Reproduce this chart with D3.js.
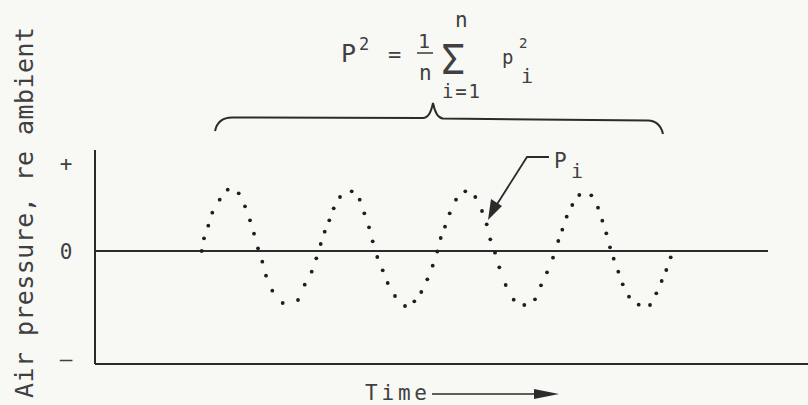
<!DOCTYPE html>
<meta charset="utf-8">
<style>
  body { margin: 0; background: #f8f8f5; }
  text { font-family: "DejaVu Sans Mono", monospace; fill: #404040; }
</style>
<body>
<div id="chart"></div>
<script src="https://d3js.org/d3.v7.min.js"></script>
<script>

var times = [106.7, 109, 113.3, 117.3, 124.7, 132.7, 143.7, 150, 155, 159, 163, 167.3, 171, 177.3, 187.7,
  203, 209.7, 216.7, 221.3, 225.7, 229.7, 234.3, 238.7, 245, 256.7, 264.7, 269.3, 274, 277.7, 282.3,
  287.7, 292.7, 300, 310, 319.3, 326.3, 332.3, 337.7, 342.3, 345.7, 350, 354.7, 361, 370.3, 380.3,
  387, 391.7, 395.3, 400, 404.3, 410.7, 418.7, 429.3, 440, 446, 452, 458, 463.3, 467.3, 471.7,
  477.3, 484.3, 496.3, 503, 507.3, 511.3, 515, 518.7, 523.3, 527.7, 534, 543.7, 555, 561.3, 566.7,
  571.3, 575.7];
var pressures = [0, 12.7, 25.3, 38.3, 51.3, 61.3, 57.7, 44.7, 30.7, 17.3, 2.7, -10.7, -24.7, -39.7, -52,
  -49, -33.7, -20.7, -7.3, 7, 19.3, 30.7, 42.7, 54, 59.7, 51.3, 37.7, 23.7, 9.7, -6,
  -19.3, -32, -45, -55, -50.3, -41, -28.3, -14.7, -0.5, 13, 24.3, 37.7, 51.3, 59.7, 54,
  40, 26.7, 11.7, -1.7, -16.3, -34, -48.7, -54, -48.3, -34.3, -21.3, -6.7, 10, 21.3, 34.3,
  46, 56, 55.7, 43.3, 30.3, 17.7, 3.7, -7.7, -20.7, -33.3, -45.7, -53.7, -54, -42.3, -30,
  -19, -6.3];

var tickValues = [88, 0, -107];
var tickLabels = ["+", "0", "\u2013"];
var zeroLineEnd = 673;

var w = 808, h = 405;

var svg = d3.select("#chart")
    .append("svg")
    .attr("width", w)
    .attr("height", h);

svg.append("rect")
    .attr("width", w)
    .attr("height", h)
    .attr("fill", "#f8f8f5");

var x = d3.scaleLinear().domain([0, 713]).range([95, 808]);
var y = d3.scaleLinear().domain([-113, 101]).range([364, 150]);

var ink = "#2b2b2b";

// axes
svg.append("line")
    .attr("x1", x(0)).attr("x2", x(0))
    .attr("y1", y(101)).attr("y2", y(-113))
    .attr("stroke", ink).attr("stroke-width", 2);

svg.append("line")
    .attr("x1", x(0)).attr("x2", x(713))
    .attr("y1", y(-113)).attr("y2", y(-113))
    .attr("stroke", ink).attr("stroke-width", 2);

// ambient (zero) line
svg.append("line")
    .attr("x1", x(0)).attr("x2", x(zeroLineEnd))
    .attr("y1", y(0)).attr("y2", y(0))
    .attr("stroke", ink).attr("stroke-width", 1.8);

// tick labels
svg.selectAll(".tick")
    .data(tickValues)
    .enter()
    .append("text")
    .attr("class", "tick")
    .text(function(d, i) { return tickLabels[i]; })
    .attr("x", 66)
    .attr("y", function(d) { return y(d); })
    .attr("dy", "0.36em")
    .attr("text-anchor", "middle")
    .attr("font-size", 21);

// dots
var dots = times.map(function(t, i) { return {t: t, p: pressures[i]}; });

svg.selectAll(".dot")
    .data(dots)
    .enter()
    .append("circle")
    .attr("class", "dot")
    .attr("cx", function(d) { return x(d.t); })
    .attr("cy", function(d) { return y(d.p); })
    .attr("r", 1.9)
    .attr("fill", "#1e1e1e");

// y label
svg.append("text")
    .text("Air pressure, re ambient")
    .attr("transform", "translate(33,398) rotate(-90)")
    .attr("font-size", 25)
    .attr("textLength", 371)
    .attr("lengthAdjust", "spacing");

// x label + arrow
svg.append("text")
    .text("Time")
    .attr("x", 365)
    .attr("y", 400)
    .attr("font-size", 21)
    .attr("textLength", 62)
    .attr("lengthAdjust", "spacing");

svg.append("line")
    .attr("x1", 432).attr("x2", 540)
    .attr("y1", 394).attr("y2", 394)
    .attr("stroke", ink).attr("stroke-width", 1.5);

svg.append("path")
    .attr("d", "M534,389 L559,394 L534,399 Z")
    .attr("fill", ink);

// brace
svg.append("path")
    .attr("d", "M215,131 Q218,117.5 232,117.5 L423,118 Q430,118 433,103 Q436,118 443,118.5 L648,120.5 Q660,121 663,134")
    .attr("fill", "none")
    .attr("stroke", ink)
    .attr("stroke-width", 2);

// formula  P^2 = 1/n sum_{i=1}^{n} p_i^2
var f = svg.append("g");
f.append("text").text("P").attr("x", 341).attr("y", 62).attr("font-size", 25);
f.append("text").text("2").attr("x", 359).attr("y", 50).attr("font-size", 17);
f.append("text").text("=").attr("x", 388).attr("y", 62).attr("font-size", 22);
f.append("text").text("1").attr("x", 418).attr("y", 48).attr("font-size", 20);
f.append("line")
    .attr("x1", 417).attr("x2", 433).attr("y1", 53).attr("y2", 53)
    .attr("stroke", "#3a3a3a").attr("stroke-width", 1.5);
f.append("text").text("n").attr("x", 419).attr("y", 80).attr("font-size", 21);
f.append("text").text("\u03A3").attr("x", 441).attr("y", 74)
    .attr("font-size", 40).attr("font-family", "DejaVu Sans");
f.append("text").text("n").attr("x", 455).attr("y", 27).attr("font-size", 21);
f.append("text").text("i=1").attr("x", 442).attr("y", 98).attr("font-size", 19)
    .attr("textLength", 38).attr("lengthAdjust", "spacing");
f.append("text").text("p").attr("x", 502).attr("y", 64).attr("font-size", 19);
f.append("text").text("2").attr("x", 519).attr("y", 48).attr("font-size", 14);
f.append("text").text("i").attr("x", 521).attr("y", 83).attr("font-size", 20);

// p_i label with leader arrow
svg.append("text").text("P").attr("x", 554).attr("y", 168).attr("font-size", 21);
svg.append("text").text("i").attr("x", 571).attr("y", 178).attr("font-size", 20);

svg.append("path")
    .attr("d", "M549,157 L527,157 L494,209")
    .attr("fill", "none")
    .attr("stroke", ink)
    .attr("stroke-width", 1.8);

svg.append("path")
    .attr("d", "M488,220 L491,199 L502,206 Z")
    .attr("fill", ink);

</script>
</body>
